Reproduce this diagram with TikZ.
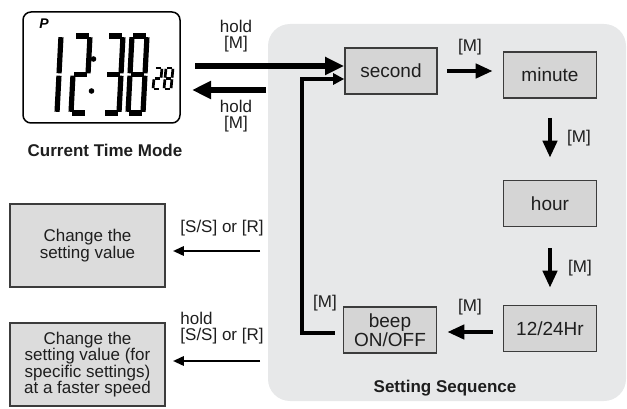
\documentclass[tikz,border=0pt]{standalone}
\usepackage{fontspec}
\setmainfont{Liberation Sans}
\usetikzlibrary{arrows.meta}
\definecolor{panelgray}{HTML}{E7E8E9}
\definecolor{boxgray}{HTML}{D5D5D5}
\definecolor{lboxgray}{HTML}{DCDCDC}
\definecolor{edgegray}{HTML}{3C3C3C}
\definecolor{inkgray}{HTML}{1E1E1E}
\newcommand\lcddigit[6]{% x0, ytop, ybot, w, slant, segments
  \coordinate (a1) at ({#1+#5},#2); \coordinate (a2) at ({#1+#5+#4},#2);
  \coordinate (b1) at ({#1+#5+#4},#2); \coordinate (b2) at ({#1+#5/2+#4},{(#2+#3)/2});
  \coordinate (c1) at ({#1+#5/2+#4},{(#2+#3)/2}); \coordinate (c2) at ({#1+#4},#3);
  \coordinate (d1) at (#1,#3); \coordinate (d2) at ({#1+#4},#3);
  \coordinate (e1) at ({#1+#5/2},{(#2+#3)/2}); \coordinate (e2) at (#1,#3);
  \coordinate (f1) at ({#1+#5},#2); \coordinate (f2) at ({#1+#5/2},{(#2+#3)/2});
  \coordinate (g1) at ({#1+#5/2},{(#2+#3)/2}); \coordinate (g2) at ({#1+#5/2+#4},{(#2+#3)/2});
  \foreach \sg in {#6} {\draw[seg] (\sg1) -- (\sg2);}
}
\begin{document}
\begin{tikzpicture}[x=1pt,y=-1pt,text=inkgray,
  seg/.style={line width=5.2pt,shorten <=1.2pt,shorten >=1.2pt},
  stepbox/.style={draw=edgegray,fill=boxgray,line width=1.6pt,inner sep=0pt,
    minimum width=93pt,minimum height=46pt,font=\fontsize{19}{17.5}\selectfont,align=center},
  leftbox/.style={draw=edgegray,fill=lboxgray,line width=1.6pt,inner sep=0pt,
    minimum width=155pt,minimum height=83pt,font=\fontsize{17}{16.5}\selectfont,align=center},
  lbl/.style={font=\fontsize{17}{15.5}\selectfont,inner sep=0pt,align=center},
  captxt/.style={font=\fontsize{17}{17}\selectfont\bfseries,inner sep=0pt},
  bigarrow/.style={line width=5.5pt,-{Triangle[length=19pt,width=17pt]}},
  marrow/.style={line width=4.2pt,-{Triangle[length=17pt,width=14pt]}},
  looparrow/.style={line width=4.2pt,-{Triangle[length=11pt,width=11pt]}},
  thinarrow/.style={line width=2.8pt,-{Triangle[length=11pt,width=9pt]}}]
\useasboundingbox (0,0) rectangle (627,409);
% panel
\fill[panelgray,rounded corners=22pt] (268,24) rectangle (626,401);
% LCD
\node[draw,line width=1.5pt,rounded corners=8pt,minimum width=157pt,minimum height=111pt,inner sep=0pt] (lcd) at (101.5,67.5) {};
\node[font=\fontsize{14}{14}\selectfont\bfseries\itshape,inner sep=0pt,text=black] (pp) at (44,24) {P};
\lcddigit{42}{36}{113}{15}{4}{b,c}
\lcddigit{71}{36}{113}{15}{4}{a,b,g,e,d}
\lcddigit{104}{36}{113}{15}{4}{a,b,g,c,d}
\lcddigit{128}{36}{113}{15}{4}{a,b,c,d,e,f,g}
\begin{scope}[seg/.style={line width=2.7pt,shorten <=0.8pt,shorten >=0.8pt}]
\lcddigit{153}{68}{89}{7}{2}{a,b,g,e,d}
\lcddigit{164}{68}{89}{7}{2}{a,b,c,d,e,f,g}
\end{scope}
\fill (93.5,59) circle (2.8pt);
\fill (91.5,91) circle (2.8pt);
\node[captxt] (ctm) at (105,150) {Current Time Mode};
% step boxes
\node[stepbox,minimum width=92pt] (second) at (391,71) {second};
\node[stepbox] (minute) at (550,75) {minute};
\node[stepbox] (hour) at (550,203.5) {hour};
\node[stepbox] (hr) at (550,328.5) {12/24Hr};
\node[stepbox] (beep) at (390,330) {beep\\ON/OFF};
\node[captxt] (ss) at (445,388) {Setting Sequence};
% left boxes
\node[leftbox] (box1) at (87.5,245.5) {Change the\\setting value};
\node[leftbox] (box2) at (87.5,364.5) {Change the\\setting value (for\\specific settings)\\at a faster speed};
% hold arrows
\coordinate (h1) at (195,66);
\draw[bigarrow] (h1) -- (h1 -| second.west);
\coordinate (h2s) at (266,90);
\coordinate (h2e) at (192,90);
\draw[bigarrow] (h2s) -- (h2e);
\node[lbl] (hl1) at (236,36) {hold\\{[M]}};
\node[lbl] (hl2) at (236,116) {hold\\{[M]}};
% sequence arrows
\draw[marrow,shorten <=9pt,shorten >=10pt] (second.east) -- (second.east -| minute.west);
\node[lbl] (m1) at (470,47) {[M]};
\draw[marrow,shorten <=19pt,shorten >=22pt] (minute.south) -- (hour.north);
\node[lbl] (m2) at (579,138) {[M]};
\draw[marrow,shorten <=21pt,shorten >=17pt] (hour.south) -- (hr.north);
\node[lbl] (m3) at (580,268) {[M]};
\coordinate (r1) at (hr.west |- 0,332);
\draw[marrow,shorten <=10pt,shorten >=10pt] (r1) -- (r1 -| beep.east);
\node[lbl] (m4) at (470,307) {[M]};
\coordinate (lx) at (302,0);
\coordinate (bl) at (beep.west |- 0,333);
\coordinate (sl) at (second.west |- 0,79);
\draw[looparrow,shorten <=8pt] (bl) -- (bl -| lx) |- (sl);
\node[lbl] (m5) at (325,303) {[M]};
% left arrows
\coordinate (s1) at (260,251);
\draw[thinarrow,shorten >=7pt] (s1) -- (s1 -| box1.east);
\node[lbl] (sl1) at (222,228) {[S/S] or [R]};
\coordinate (s2) at (260,361);
\draw[thinarrow,shorten >=7pt] (s2) -- (s2 -| box2.east);
\node[lbl,align=left] (sl2) at (222,328) {hold\\{[S/S] or [R]}};
\end{tikzpicture}
\end{document}
